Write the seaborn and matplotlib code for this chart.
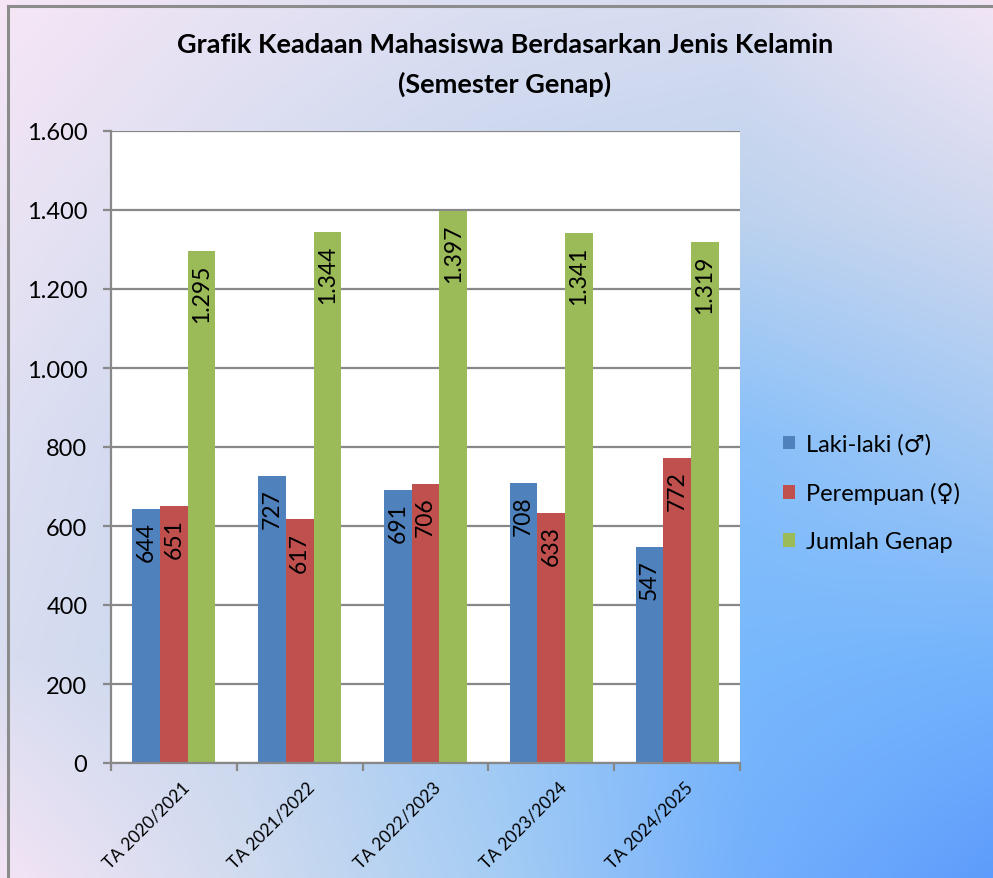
import numpy as np
import pandas as pd
import matplotlib
matplotlib.use("Agg")
import matplotlib.pyplot as plt
from matplotlib.colors import to_rgb
from matplotlib.ticker import FuncFormatter, MultipleLocator, FixedLocator
import matplotlib.transforms as mtransforms
import seaborn as sns

categories = ["TA 2020/2021", "TA 2021/2022", "TA 2022/2023", "TA 2023/2024", "TA 2024/2025"]
series_names = ["Laki-laki (\u2642)", "Perempuan (\u2640)", "Jumlah Genap"]
laki = [644, 727, 691, 708, 547]
perempuan = [651, 617, 706, 633, 772]
jumlah = [1295, 1344, 1397, 1341, 1319]
colors = ["#4f81bd", "#c0504d", "#9bbb59"]

df = pd.DataFrame({
    "Tahun": categories * 3,
    "Seri": [series_names[0]] * 5 + [series_names[1]] * 5 + [series_names[2]] * 5,
    "Nilai": laki + perempuan + jumlah,
})

sns.set_theme(style="white")
plt.rcParams["font.family"] = ["Lato", "DejaVu Sans"]

W, H = 993, 879
fig = plt.figure(figsize=(W / 100, H / 100), dpi=100)

# background gradient (grid of sampled colours, bilinear)
grid_hex = [
    ["#f6e6f6", "#e6e2f3", "#dadef1", "#d8dcf0", "#f2e6f6"],
    ["#eae3f4", "#d6dcf0", "#c6d5ee", "#bcd2ee", "#cfd8ef"],
    ["#dedff2", "#c8d6ee", "#b0cff2", "#88c0fa", "#a2c8f4"],
    ["#d8ddf0", "#c6d6ee", "#9cc8f6", "#78b8fc", "#74b4fc"],
    ["#f3e4f5", "#d0dbef", "#a6cdf4", "#74b0fc", "#5e9cfc"],
]
G = np.array([[to_rgb(c) for c in row] for row in grid_hex])
gx = np.linspace(0, 1, 5)
gy = np.linspace(0, 1, 5)
px = np.linspace(0, 1, 300)
py = np.linspace(0, 1, 270)
tmp = np.zeros((5, len(px), 3))
for i in range(5):
    for c in range(3):
        tmp[i, :, c] = np.interp(px, gx, G[i, :, c])
img = np.zeros((len(py), len(px), 3))
for j in range(len(px)):
    for c in range(3):
        img[:, j, c] = np.interp(py, gy, tmp[:, j, c])

bg = fig.add_axes([0, 0, 1, 1], zorder=-10)
bg.set_axis_off()
bg.imshow(img, aspect="auto", extent=[0, 1, 0, 1], origin="upper", interpolation="bilinear")
bg.set_xlim(0, 1); bg.set_ylim(0, 1)
bg.add_patch(plt.Rectangle((8 / W, -0.05), 1.1, 1 - 7 / H + 0.05, fill=False,
                           edgecolor="#8c8c8c", lw=2.2, transform=bg.transAxes, clip_on=False))

ax = fig.add_axes([111 / W, 1 - 764 / H, (740 - 111) / W, (764 - 132) / H])
ax.set_facecolor("white")
sns.barplot(data=df, x="Tahun", y="Nilai", hue="Seri", palette=colors,
            width=0.66, saturation=1, ax=ax, legend=True, edgecolor="none")

ax.set_ylim(0, 1600)
ax.set_xlim(-0.5, 4.5)
ax.yaxis.set_major_locator(MultipleLocator(200))
ax.yaxis.set_major_formatter(FuncFormatter(lambda v, p: f"{int(v):,}".replace(",", ".")))
ax.grid(axis="y", color="#888888", lw=1.6)
ax.set_axisbelow(True)
for s in ["top", "right"]:
    ax.spines[s].set_visible(False)
for s in ["left", "bottom"]:
    ax.spines[s].set_color("#888888")
    ax.spines[s].set_linewidth(1.6)
ax.tick_params(axis="y", which="major", length=6, width=1.6, color="#888888",
               direction="out", labelsize=17, pad=11, left=True, labelcolor="black")
ax.set_xticks(range(5))
ax.set_xticklabels(categories, rotation=45, ha="right", rotation_mode="anchor",
                   fontsize=12.5, color="black")
ax.tick_params(axis="x", which="major", length=0, pad=11)
offset = mtransforms.ScaledTranslation(7 / 100, 0, fig.dpi_scale_trans)
for lbl in ax.get_xticklabels():
    lbl.set_transform(lbl.get_transform() + offset)
ax.xaxis.set_minor_locator(FixedLocator([-0.5, 0.5, 1.5, 2.5, 3.5, 4.5]))
ax.tick_params(axis="x", which="minor", length=6, width=1.6, color="#888888",
               direction="out", bottom=True)
ax.set_xlabel("")
ax.set_ylabel("")

for cont in ax.containers:
    for rect in cont:
        h = rect.get_height()
        ax.annotate(f"{int(h):,}".replace(",", "."),
                    (rect.get_x() + rect.get_width() / 2, h),
                    xytext=(0, -9), textcoords="offset points",
                    rotation=90, ha="center", va="top", fontsize=16.5, color="black")

leg = ax.legend(loc="center left", bbox_to_anchor=(762 / W, 1 - 494 / H),
                bbox_transform=fig.transFigure, frameon=False, fontsize=17,
                handlelength=0.5, handleheight=0.5, handletextpad=0.45, labelspacing=1.15)
for t in leg.get_texts():
    t.set_color("black")

fig.text(505 / W, 1 - 45 / H, "Grafik Keadaan Mahasiswa Berdasarkan Jenis Kelamin",
         ha="center", va="center", fontsize=19.5, fontweight="bold", color="black")
fig.text(505 / W, 1 - 84 / H, "(Semester Genap)",
         ha="center", va="center", fontsize=19.5, fontweight="bold", color="black")

fig.savefig("out.png", dpi=100)
